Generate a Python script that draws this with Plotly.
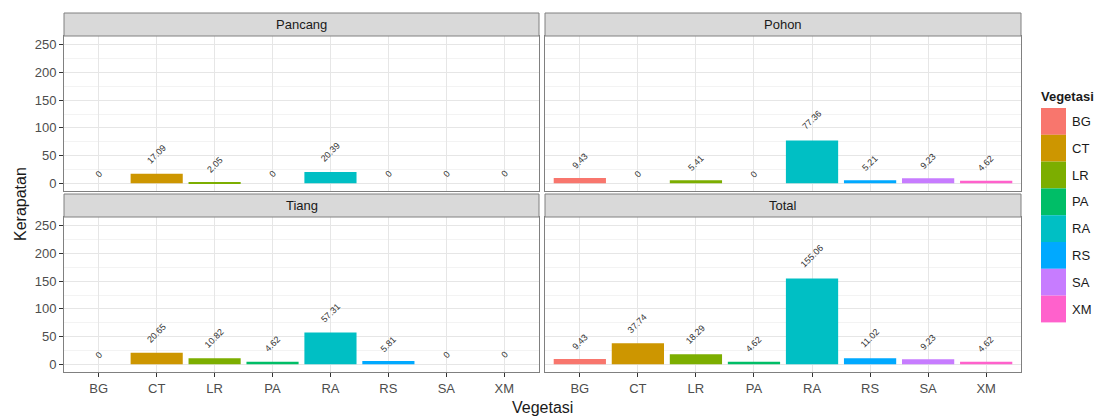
import plotly.graph_objects as go

# Vegetation categories and their ggplot-style hue colours
categories = ["BG", "CT", "LR", "PA", "RA", "RS", "SA", "XM"]
colors = ["#F8766D", "#CD9600", "#7CAE00", "#00BE67",
          "#00BFC4", "#00A9FF", "#C77CFF", "#FF61CC"]

# Density (Kerapatan) per growth stage
pancang = [0, 17.09, 2.05, 0, 20.39, 0, 0, 0]
pohon = [9.43, 0, 5.41, 0, 77.36, 5.21, 9.23, 4.62]
tiang = [0, 20.65, 10.82, 4.62, 57.31, 5.81, 0, 0]
total = [9.43, 37.74, 18.29, 4.62, 155.06, 11.02, 9.23, 4.62]

panels = [("Pancang", pancang), ("Pohon", pohon), ("Tiang", tiang), ("Total", total)]

W, H = 1109, 417
# panel pixel boxes (left, right, top, bottom)
cols_px = [(64, 539), (545, 1021)]
rows_px = [(36, 191), (217, 372)]
strip_h = 23

def px_x(v):
    return v / W

def px_y(v):
    return 1 - v / H

fig = go.Figure()
layout = dict(
    width=W, height=H,
    margin=dict(l=0, r=0, t=0, b=0),
    paper_bgcolor="white", plot_bgcolor="white",
    showlegend=False, bargap=0.1,
    font=dict(family="Liberation Sans, Arial, sans-serif", color="#4D4D4D"),
)
shapes = []
annotations = []

def label_text(v):
    return "0" if v == 0 else f"{v:.2f}"

for i, (name, vals) in enumerate(panels):
    r, c = divmod(i, 2)
    n = i + 1
    xa = "xaxis" if n == 1 else f"xaxis{n}"
    ya = "yaxis" if n == 1 else f"yaxis{n}"
    xr = "x" if n == 1 else f"x{n}"
    yr = "y" if n == 1 else f"y{n}"
    (xl, xrgt), (yt, yb) = cols_px[c], rows_px[r]

    fig.add_trace(go.Bar(
        x=categories, y=vals, marker=dict(color=colors, line=dict(width=0)),
        xaxis=xr, yaxis=yr, hoverinfo="x+y",
    ))

    layout[xa] = dict(
        domain=[px_x(xl), px_x(xrgt)], anchor=yr,
        type="category", categoryorder="array", categoryarray=categories,
        range=[-0.6, 7.6],
        showgrid=True, gridcolor="#E6E6E6", gridwidth=1,
        showline=True, linecolor="#808080", linewidth=1, mirror=True,
        ticks="outside" if r == 1 else "", ticklen=4, tickcolor="#333333",
        showticklabels=(r == 1), tickfont=dict(size=13, color="#4D4D4D"),
        zeroline=False,
    )
    layout[ya] = dict(
        domain=[px_y(yb), px_y(yt)], anchor=xr,
        range=[-14, 266],
        tickvals=[0, 50, 100, 150, 200, 250],
        showgrid=True, gridcolor="#E6E6E6", gridwidth=1,
        minor=dict(tickvals=[25, 75, 125, 175, 225], showgrid=True,
                   gridcolor="#F3F3F3", gridwidth=1),
        showline=True, linecolor="#808080", linewidth=1, mirror=True,
        ticks="outside" if c == 0 else "", ticklen=4, tickcolor="#333333",
        showticklabels=(c == 0), tickfont=dict(size=13, color="#4D4D4D"),
        zeroline=False,
    )

    # facet strip
    shapes.append(dict(
        type="rect", xref="paper", yref="paper",
        x0=px_x(xl), x1=px_x(xrgt), y0=px_y(yt), y1=px_y(yt - strip_h),
        fillcolor="#D9D9D9", line=dict(color="#808080", width=1), layer="above",
    ))
    annotations.append(dict(
        text=name, xref="paper", yref="paper",
        x=px_x((xl + xrgt) / 2), y=px_y(yt - strip_h / 2),
        showarrow=False, font=dict(size=13, color="#1A1A1A"),
        xanchor="center", yanchor="middle",
    ))

    # rotated value labels above each bar
    for cat, v in zip(categories, vals):
        t = label_text(v)
        annotations.append(dict(
            text=t, x=cat, y=v, xref=xr, yref=yr,
            showarrow=False, textangle=-45,
            font=dict(size=9, color="#333333"),
            xanchor="center", yanchor="middle",
            yshift=7 + 2.6 * len(t),
        ))

# axis titles
annotations.append(dict(
    text="Kerapatan", xref="paper", yref="paper", x=px_x(20), y=px_y(204),
    showarrow=False, textangle=-90, font=dict(size=16, color="#1A1A1A"),
    xanchor="center", yanchor="middle",
))
annotations.append(dict(
    text="Vegetasi", xref="paper", yref="paper", x=px_x(542), y=px_y(407),
    showarrow=False, font=dict(size=16, color="#1A1A1A"),
    xanchor="center", yanchor="middle",
))

# legend: stacked colour keys with labels
leg_x0, leg_x1 = 1041, 1066
key_top, key_h = 108, 26.8
annotations.append(dict(
    text="<b>Vegetasi</b>", xref="paper", yref="paper",
    x=px_x(1039), y=px_y(96), showarrow=False,
    font=dict(size=13, color="#1A1A1A"), xanchor="left", yanchor="middle",
))
for k, (cat, col) in enumerate(zip(categories, colors)):
    y0 = key_top + k * key_h
    shapes.append(dict(
        type="rect", xref="paper", yref="paper",
        x0=px_x(leg_x0), x1=px_x(leg_x1), y0=px_y(y0 + key_h), y1=px_y(y0),
        fillcolor=col, line=dict(width=0),
    ))
    annotations.append(dict(
        text=cat, xref="paper", yref="paper",
        x=px_x(leg_x1 + 4), y=px_y(y0 + key_h / 2), showarrow=False,
        font=dict(size=13, color="#1A1A1A"), xanchor="left", yanchor="middle",
    ))

layout["shapes"] = shapes
layout["annotations"] = annotations
fig.update_layout(**layout)
fig.write_html("out.html")
